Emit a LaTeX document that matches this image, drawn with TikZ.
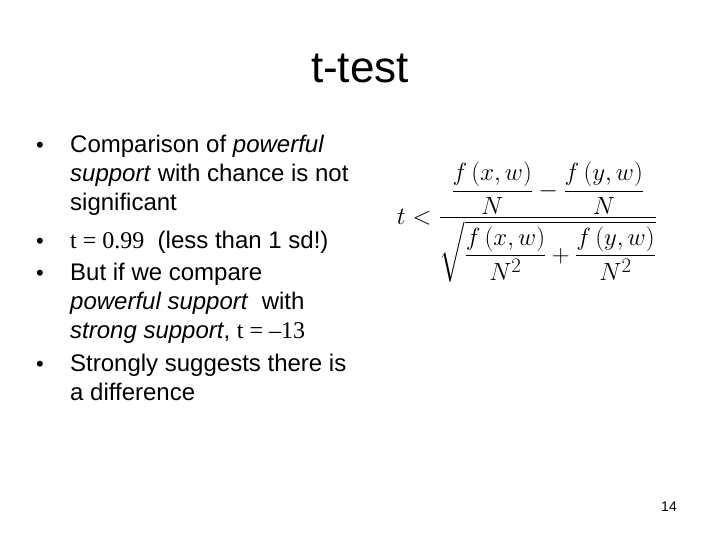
\documentclass[tikz,border=0pt]{standalone}
\usepackage{amsmath}
\usepackage{fontspec}
\setmainfont{Liberation Sans}
\newfontfamily\serifx{Liberation Serif}
\begin{document}
\begin{tikzpicture}[x=1pt,y=-1pt,
  txt/.style={anchor=base west,inner sep=0pt,font=\fontsize{24}{28}\selectfont},
  bul/.style={anchor=base west,inner sep=0pt,font=\fontsize{22}{28}\selectfont}]
\useasboundingbox[fill=white] (0,0) rectangle (720,540);
\node[anchor=base,inner sep=0pt,font=\fontsize{44}{48}\selectfont] (title) at (360,83) {t-test};
\node[bul] (b1) at (36,153) {•};
\node[txt] (l1) at (70,153) {Comparison of \textit{powerful}};
\node[txt] (l2) at (70,182) {\textit{support} with chance is not};
\node[txt] (l3) at (70,211) {significant};
\node[bul] (b2) at (36,248) {•};
\node[txt] (l4) at (70,248) {{\serifx t = 0.99}\ \ (less than 1 sd!)};
\node[bul] (b3) at (36,280) {•};
\node[txt] (l5) at (70,280) {But if we compare};
\node[txt] (l6) at (70,309) {\textit{powerful support}\ \ with};
\node[txt] (l7) at (70,338) {\textit{strong support}, {\serifx t = –13}};
\node[bul] (b4) at (36,371) {•};
\node[txt] (l8) at (70,371) {Strongly suggests there is};
\node[txt] (l9) at (70,400) {a difference};
\node[anchor=base,inner sep=0pt,font=\fontsize{14}{16}\selectfont] (pg) at (669,511) {14};
\node[inner sep=0pt,font=\fontsize{32}{36}\selectfont] (eq) at (527,222)
  {$\displaystyle t<\frac{\dfrac{f\,(x,w)}{N}-\dfrac{f\,(y,w)}{N}}{\sqrt{\dfrac{f\,(x,w)}{N^2}+\dfrac{f\,(y,w)}{N^2}}}$};
\end{tikzpicture}
\end{document}
